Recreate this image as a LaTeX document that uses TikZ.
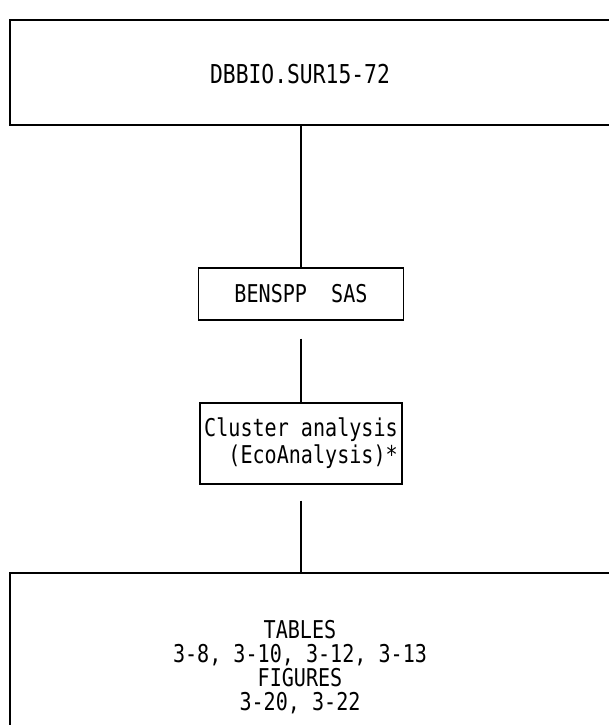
\documentclass[tikz,border=0pt]{standalone}
\usepackage{fontspec}
\newfontfamily\boxfont[FakeStretch=0.82]{DejaVu Sans Mono}

\begin{document}
\begin{tikzpicture}[x=1pt,y=1pt,
  frame/.style={draw,line width=1.1pt,inner sep=0pt},
  txt/.style={font=\boxfont\fontsize{24.5}{24}\selectfont,inner sep=0pt}]
\useasboundingbox (0,0) rectangle (608,-725);
\node[style={frame,minimum width=630pt,minimum height=105pt}] (dbframe) at (325,-72.5) {};
\node[style={txt,font=\boxfont\fontsize{26}{24}\selectfont}] (db) at (300,-74) {DBBIO.SUR15-72};
\node[style={frame,txt,minimum width=205pt,minimum height=52pt}] (sas) at (301,-294) {BENSPP\ \ SAS};
\node[style={frame,txt,font=\boxfont\fontsize{24.5}{27}\selectfont,align=right,minimum width=202pt,minimum height=81pt}] (clus) at (301,-443.5) {Cluster analysis\\(EcoAnalysis)*};
\node[style={frame,minimum width=630pt,minimum height=187pt}] (outframe) at (325,-666.5) {};
\node[style={txt,align=center}] (out) at (300,-667) {TABLES\\3-8, 3-10, 3-12, 3-13\\FIGURES\\3-20, 3-22};
\path[draw,line width=1.1pt] (dbframe.south -| sas.north) -- (sas.north);
\path[draw,line width=1.1pt,shorten <=18pt] (sas) -- (clus);
\path[draw,line width=1.1pt,shorten <=16pt] (clus) -- (outframe.north -| clus.south);
\end{tikzpicture}
\end{document}
